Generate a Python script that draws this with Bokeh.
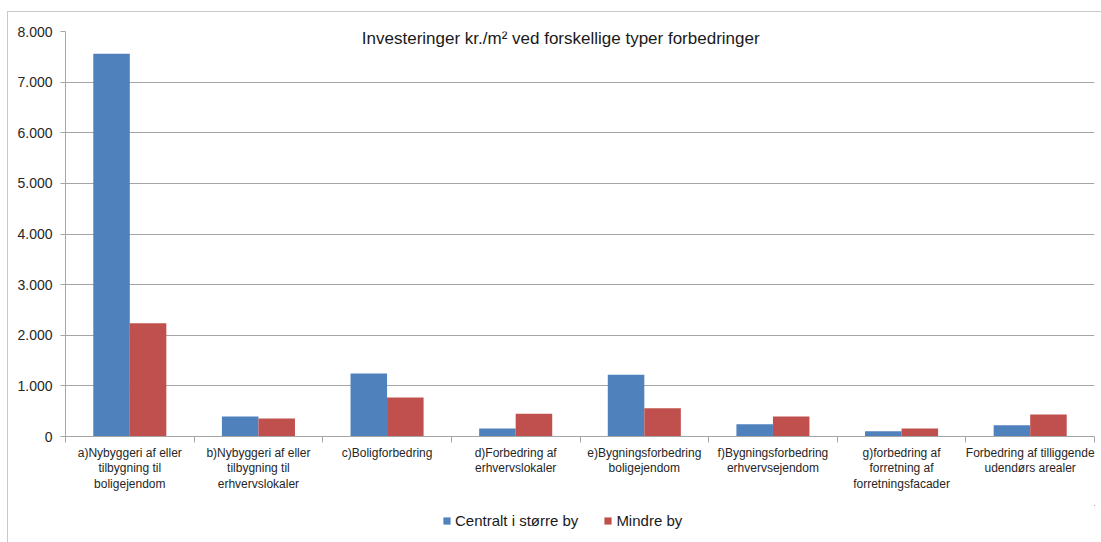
from bokeh.plotting import figure
from bokeh.layouts import column
from bokeh.models import (ColumnDataSource, FixedTicker, Label, Legend, LegendItem, Range1d)
from bokeh.transform import dodge
from bokeh.embed import file_html
from bokeh.resources import INLINE

categories = [
    "a)Nybyggeri af eller\ntilbygning til\nboligejendom",
    "b)Nybyggeri af eller\ntilbygning til\nerhvervslokaler",
    "c)Boligforbedring",
    "d)Forbedring af\nerhvervslokaler",
    "e)Bygningsforbedring\nboligejendom",
    "f)Bygningsforbedring\nerhvervsejendom",
    "g)forbedring af\nforretning af\nforretningsfacader",
    "Forbedring af tilliggende\nudendørs arealer",
]
central = [7560, 395, 1245, 158, 1220, 243, 105, 223]
mindre = [2235, 358, 770, 448, 560, 395, 158, 435]
series_names = ["Centralt i større by", "Mindre by"]
y_ticks = [0, 1000, 2000, 3000, 4000, 5000, 6000, 7000, 8000]
y_labels = ["0", "1.000", "2.000", "3.000", "4.000", "5.000", "6.000", "7.000", "8.000"]
title_text = "Investeringer kr./m² ved forskellige typer forbedringer"

BLUE = "#4F81BD"
RED = "#C0504D"
GRID = "#A6A6A6"
FONT = "'Liberation Sans', sans-serif"

n = len(categories)
centers = [i + 0.5 for i in range(n)]
bw = 0.284

src = ColumnDataSource(dict(x=centers, central=central, mindre=mindre))

p = figure(width=1093, height=493, output_backend="svg", toolbar_location=None,
           x_range=Range1d(0, n), y_range=Range1d(0, 8000),
           min_border_left=57, min_border_right=7, min_border_top=19, min_border_bottom=69)
p.outline_line_color = None
p.background_fill_color = "white"

r1 = p.vbar(x=dodge("x", -bw / 2, range=p.x_range), top="central", width=bw, source=src,
            fill_color=BLUE, line_color=None)
r2 = p.vbar(x=dodge("x", bw / 2, range=p.x_range), top="mindre", width=bw, source=src,
            fill_color=RED, line_color=None)

# x axis
xa = p.xaxis[0]
xa.ticker = FixedTicker(ticks=centers, minor_ticks=list(range(n + 1)))
xa.major_label_overrides = {c: lab for c, lab in zip(centers, categories)}
xa.major_tick_out = 0
xa.major_tick_in = 0
xa.minor_tick_out = 6
xa.minor_tick_in = 0
xa.minor_tick_line_color = GRID
xa.axis_line_color = GRID
xa.major_label_text_font = FONT
xa.major_label_text_font_size = "12px"
xa.major_label_text_color = "#262626"
xa.major_label_standoff = 3
xa.major_label_text_line_height = 1.12

# y axis
ya = p.yaxis[0]
ya.ticker = FixedTicker(ticks=y_ticks)
ya.major_label_overrides = {t: l for t, l in zip(y_ticks, y_labels)}
ya.major_tick_out = 5
ya.major_tick_in = 0
ya.minor_tick_line_color = None
ya.major_tick_line_color = GRID
ya.axis_line_color = GRID
ya.major_label_text_font = FONT
ya.major_label_text_font_size = "14px"
ya.major_label_text_color = "#262626"
ya.major_label_standoff = 8

p.xgrid.grid_line_color = None
p.ygrid.grid_line_color = GRID
p.ygrid.grid_line_width = 1
p.ygrid.ticker = FixedTicker(ticks=y_ticks)

title = Label(x=3.85, y=7870, text=title_text, text_align="center", text_baseline="middle",
              text_font=FONT, text_font_size="17px", text_color="#1a1a1a")
p.add_layout(title)

# legend strip below the chart (its bars fall far outside its visible ranges)
lf = figure(width=1093, height=37, output_backend="svg", toolbar_location=None,
            x_range=Range1d(-2e6, -1e6), y_range=Range1d(-2e6, -1e6),
            min_border_left=0, min_border_right=0, min_border_top=0, min_border_bottom=0)
lf.outline_line_color = None
lf.axis.visible = False
lf.grid.grid_line_color = None
lr1 = lf.vbar(x=dodge("x", -bw / 2, range=lf.x_range), top="central", width=bw, source=src,
              fill_color=BLUE, line_color=None)
lr2 = lf.vbar(x=dodge("x", bw / 2, range=lf.x_range), top="mindre", width=bw, source=src,
              fill_color=RED, line_color=None)
legend = Legend(items=[LegendItem(label=series_names[0], renderers=[lr1]),
                       LegendItem(label=series_names[1], renderers=[lr2])],
                orientation="horizontal", location=(377, 13),
                border_line_color=None, background_fill_alpha=0,
                label_text_font=FONT, label_text_font_size="15px", label_text_color="#1a1a1a",
                glyph_width=9, glyph_height=9, spacing=25, padding=0, margin=0,
                label_standoff=4)
lf.add_layout(legend, "center")

layout = column(p, lf, spacing=0)
layout.styles = {"margin-left": "7px", "margin-top": "11px",
                 "border-top": "1px solid #C8C8C8", "border-left": "1px solid #C8C8C8"}

open("out.html", "w").write(file_html(layout, INLINE))
